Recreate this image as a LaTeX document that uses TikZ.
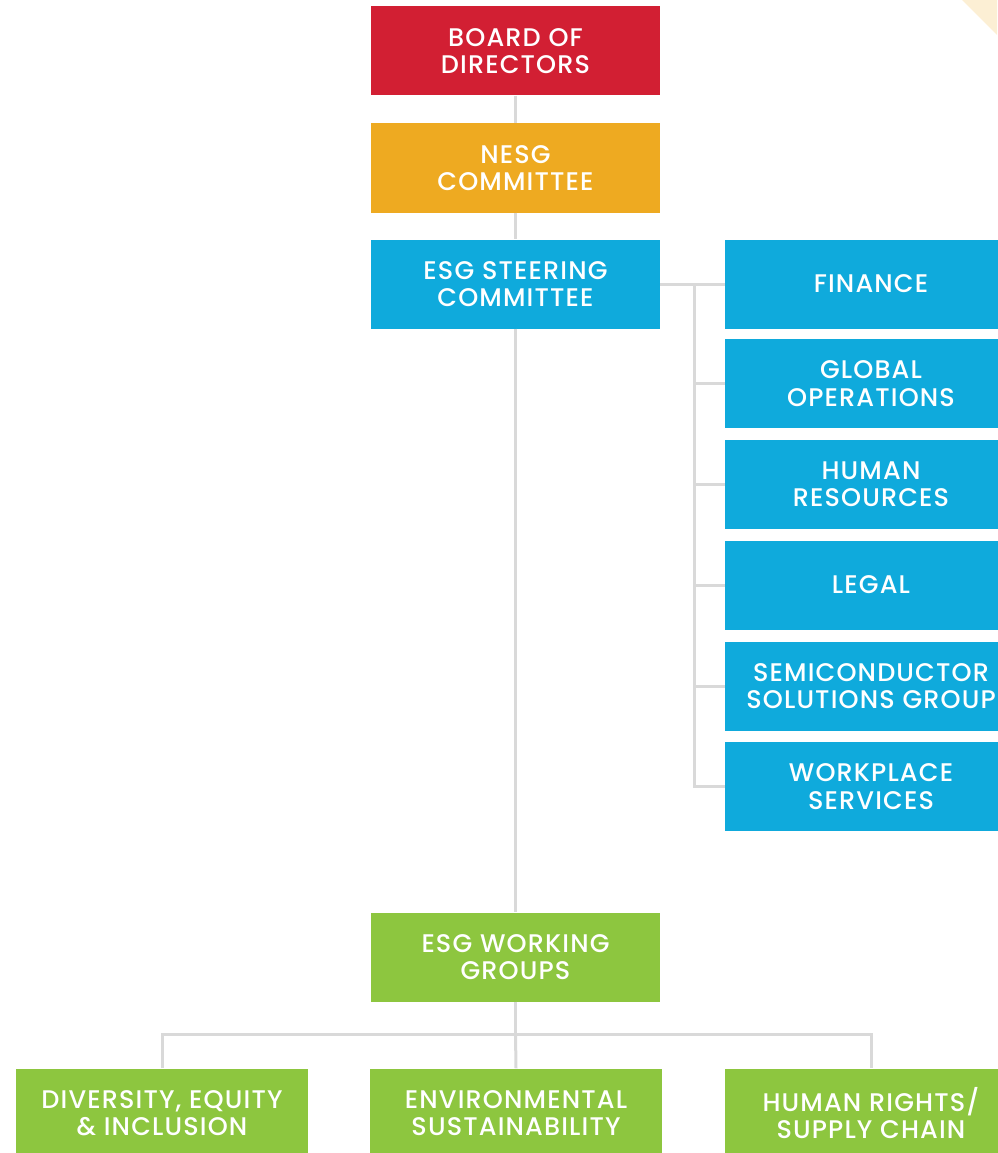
\documentclass[tikz,border=0pt]{standalone}
\usepackage{fontspec}
\setmainfont{Poppins Medium}[LetterSpace=4.5]
\definecolor{boardred}{HTML}{D21F33}
\definecolor{nesgorange}{HTML}{EEAA21}
\definecolor{esgblue}{HTML}{0FAADC}
\definecolor{wggreen}{HTML}{8DC63F}
\definecolor{linkgray}{HTML}{D9D9D9}
\definecolor{cream}{HTML}{FCEFD4}
\tikzset{
  box/.style={text=white, align=center, inner sep=0pt, minimum width=289pt, minimum height=89pt,
    font=\fontsize{25.5}{27.5}\selectfont},
  sidebox/.style={box, fill=esgblue, minimum width=292pt},
  groupbox/.style={box, fill=wggreen, minimum width=292pt},
  link/.style={draw=linkgray, line width=3pt}
}
\begin{document}
\begin{tikzpicture}[x=1pt,y=-1pt]
  \useasboundingbox (0,0) rectangle (997,1153);
  \fill[cream] (962,0)--(997,0)--(997,35)--cycle; % corner

  \node[box, fill=boardred] (board) at (515.5,51) {BOARD OF\\DIRECTORS};
  \node[box, fill=nesgorange] (nesg) at (515.5,168) {NESG\\COMMITTEE};
  \node[box, fill=esgblue] (steer) at (515.5,284) {ESG STEERING\\COMMITTEE};

  \node[sidebox] (fin) at (871,284) {FINANCE};
  \node[sidebox] (glob) at (871,383.5) {GLOBAL\\OPERATIONS};
  \node[sidebox] (hres) at (871,484) {HUMAN\\RESOURCES};
  \node[sidebox] (legal) at (871,585) {LEGAL};
  \node[sidebox] (semi) at (871,686) {SEMICONDUCTOR\\SOLUTIONS GROUP};
  \node[sidebox] (wsvc) at (871,786.5) {WORKPLACE\\SERVICES};

  \node[box, fill=wggreen] (work) at (515.5,957) {ESG WORKING\\GROUPS};
  \node[groupbox] (dei) at (162,1113) {DIVERSITY, EQUITY\\\& INCLUSION};
  \node[groupbox] (env) at (516,1113) {ENVIRONMENTAL\\SUSTAINABILITY};
  \node[groupbox] (hrsc) at (871,1113) {HUMAN RIGHTS/\\SUPPLY CHAIN};

  % main spine
  \draw[link] (board) -- (nesg);
  \draw[link] (nesg) -- (steer);
  \draw[link] (steer) -- (work);

  % side bracket
  \coordinate (bus) at (694,284);
  \draw[link] (steer.east) -- (fin.west);
  \draw[link] (bus) |- (wsvc.west);
  \foreach \n in {glob,hres,legal,semi}
    \draw[link] (bus |- \n.west) -- (\n.west);

  % working groups
  \coordinate (split) at (515.5,1034);
  \draw[link] (work) -- (split);
  \draw[link] (dei.north) |- (split) -| (hrsc.north);
  \draw[link] (split) -- (env.north);
\end{tikzpicture}
\end{document}
